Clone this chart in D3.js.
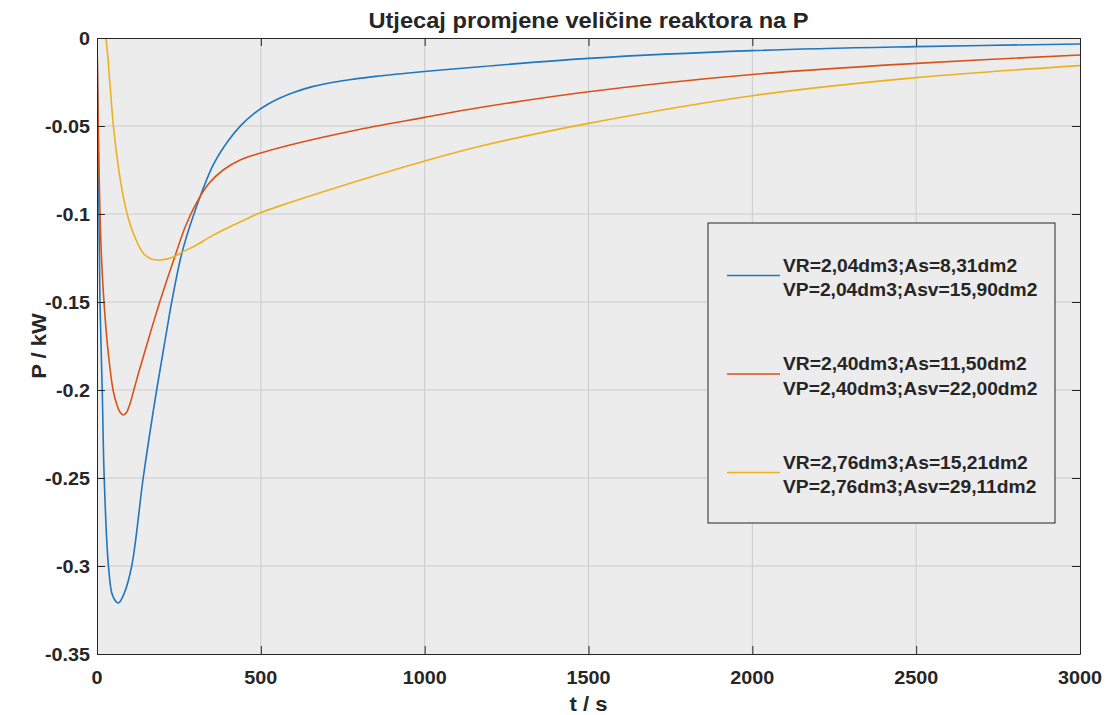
<!DOCTYPE html>
<meta charset="utf-8">
<head>
    <script type="text/javascript" src="https://cdn.jsdelivr.net/npm/d3@7/dist/d3.min.js"></script>
    <style>
        body { margin: 0; background: #fff; }
        text { font-family: "Liberation Sans", Arial, sans-serif; font-weight: bold; fill: #262626; }
    </style>
    <title>Utjecaj promjene veličine reaktora na P</title>
</head>
<body>
    <script>
        // data: time t (s) and power P (kW)
        var blueT = [0, 4, 9, 16, 22, 35, 48, 65, 82, 106, 141, 182, 213, 228, 258, 294, 355, 400, 440, 480, 520, 560, 600, 660, 750, 850, 1000, 1169, 1500, 2000, 2500, 3000];
        var blueP = [0, -0.06, -0.15, -0.2, -0.25, -0.3, -0.317, -0.321, -0.316, -0.3, -0.25, -0.2, -0.166, -0.15, -0.123, -0.101, -0.072, -0.0585, -0.0495, -0.0428, -0.0378, -0.034, -0.031, -0.0275, -0.0243, -0.0218, -0.019, -0.0163, -0.0116, -0.0072, -0.0049, -0.0034];

        var redT = [0, 3, 6, 10, 15, 24, 35, 49, 60, 70, 80, 90, 100, 111, 125, 140, 170, 200, 238, 270, 300, 340, 385, 440, 497, 589, 800, 1000, 1169, 1500, 2000, 2500, 3000];
        var redP = [0, -0.04, -0.075, -0.105, -0.13, -0.157, -0.18, -0.2, -0.208, -0.2125, -0.2142, -0.2128, -0.2082, -0.201, -0.1915, -0.182, -0.163, -0.145, -0.124, -0.107, -0.095, -0.083, -0.075, -0.069, -0.0655, -0.0608, -0.052, -0.0451, -0.0395, -0.0305, -0.0207, -0.0144, -0.0097];

        var yellowT = [0, 25, 30, 40, 50, 65, 80, 95, 111, 141, 165, 192, 215, 238, 263, 300, 355, 420, 500, 589, 800, 1000, 1169, 1500, 2000, 2500, 3000];
        var yellowP = [0, 0, -0.005, -0.027, -0.05, -0.073, -0.09, -0.102, -0.111, -0.1223, -0.1255, -0.1261, -0.1255, -0.124, -0.1214, -0.118, -0.112, -0.106, -0.0992, -0.0935, -0.081, -0.0699, -0.0615, -0.0485, -0.0328, -0.0225, -0.0157];

        var legendLabels = [
            ["VR=2,04dm3;As=8,31dm2", "VP=2,04dm3;Asv=15,90dm2"],
            ["VR=2,40dm3;As=11,50dm2", "VP=2,40dm3;Asv=22,00dm2"],
            ["VR=2,76dm3;As=15,21dm2", "VP=2,76dm3;Asv=29,11dm2"]
        ];
        var xTicks = [0, 500, 1000, 1500, 2000, 2500, 3000];
        var yTicks = [0, -0.05, -0.1, -0.15, -0.2, -0.25, -0.3, -0.35];

        var colors = ["#1f77bf", "#d95319", "#edb120"];
        var stretch = 1.1;  // text in the picture is a bit wider than the font

        var margin = {top: 38, right: 30, bottom: 61, left: 97};
        var width = 1110 - margin.left - margin.right;
        var height = 715 - margin.top - margin.bottom;

        var svg = d3.select("body").append("svg")
            .attr("width", 1110)
            .attr("height", 715);
        var g = svg.append("g")
            .attr("transform", "translate(" + margin.left + "," + margin.top + ")");

        var x = d3.scaleLinear().domain([0, 3000]).range([0, width]);
        var y = d3.scaleLinear().domain([-0.35, 0]).range([height, 0]);

        // adds a horizontally stretched label at (px, py)
        function label(parent, px, py, txt, size, anchor, rot) {
            var t = parent.append("g")
                .attr("transform", "translate(" + px + "," + py + ")" + (rot ? " rotate(" + rot + ")" : "") + " scale(" + stretch + ",1)")
                .append("text")
                .attr("text-anchor", anchor || "start")
                .style("font-size", size + "px")
                .text(txt);
            return t;
        }

        // background
        g.append("rect")
            .attr("width", width).attr("height", height)
            .style("fill", "#ececec");

        // grid
        g.append("g").selectAll("line").data(xTicks.slice(1, -1)).enter().append("line")
            .attr("x1", d => x(d)).attr("x2", d => x(d))
            .attr("y1", 0).attr("y2", height)
            .style("stroke", "#cbcbcb").style("stroke-width", 1);
        g.append("g").selectAll("line").data(yTicks.slice(1, -1)).enter().append("line")
            .attr("y1", d => y(d)).attr("y2", d => y(d))
            .attr("x1", 0).attr("x2", width)
            .style("stroke", "#cbcbcb").style("stroke-width", 1);

        // curves
        g.append("clipPath").attr("id", "clip").append("rect")
            .attr("width", width).attr("height", height);
        var line = d3.line()
            .x(d => x(d[0])).y(d => y(d[1]))
            .curve(d3.curveCatmullRom.alpha(0.5));
        var series = [d3.zip(blueT, blueP), d3.zip(redT, redP), d3.zip(yellowT, yellowP)];
        g.append("g").attr("clip-path", "url(#clip)")
            .selectAll("path").data(series).enter().append("path")
            .attr("d", line)
            .style("fill", "none")
            .style("stroke", (d, i) => colors[i])
            .style("stroke-width", 1.6);

        // axes: ticks inside on all four sides, labels drawn separately
        var xAxis = g.append("g").attr("transform", "translate(0," + height + ")")
            .call(d3.axisBottom(x).tickValues(xTicks).tickSizeInner(-8).tickSizeOuter(0).tickFormat(""));
        var xTop = g.append("g")
            .call(d3.axisTop(x).tickValues(xTicks).tickSizeInner(-8).tickSizeOuter(0).tickFormat(""));
        var yAxis = g.append("g")
            .call(d3.axisLeft(y).tickValues(yTicks).tickSizeInner(-8).tickSizeOuter(0).tickFormat(""));
        var yRight = g.append("g").attr("transform", "translate(" + width + ",0)")
            .call(d3.axisRight(y).tickValues(yTicks).tickSizeInner(-8).tickSizeOuter(0).tickFormat(""));
        [xAxis, xTop, yAxis, yRight].forEach(function(a) {
            a.selectAll("path").style("stroke", "#262626");
            a.selectAll("line").style("stroke", "#262626");
        });

        xTicks.forEach(function(d) {
            label(g, x(d), height + 30, d3.format("d")(d), 18, "middle");
        });
        yTicks.forEach(function(d) {
            label(g, -7, y(d) + 6.5, d === 0 ? "0" : String(d), 18, "end");
        });

        // title and axis labels
        label(svg, margin.left + width / 2, 28, "Utjecaj promjene veličine reaktora na P", 21.5, "middle");
        label(svg, margin.left + width / 2, 711, "t / s", 20, "middle");
        label(svg, 46, margin.top + height / 2, "P / kW", 20, "middle", -90);

        // legend
        var legend = g.append("g").attr("transform", "translate(" + (708 - margin.left) + "," + (223 - margin.top) + ")");
        legend.append("rect")
            .attr("width", 347).attr("height", 300)
            .style("fill", "#ececec").style("stroke", "#262626").style("stroke-width", 1);
        legendLabels.forEach(function(lab, i) {
            var yy = 52.5 + i * 98.5;
            legend.append("line")
                .attr("x1", 19).attr("x2", 72).attr("y1", yy).attr("y2", yy)
                .style("stroke", colors[i]).style("stroke-width", 1.6);
            label(legend, 75, yy - 4, lab[0], 17.5, "start");
            label(legend, 75, yy + 20.5, lab[1], 17.5, "start");
        });
    </script>
</body>
